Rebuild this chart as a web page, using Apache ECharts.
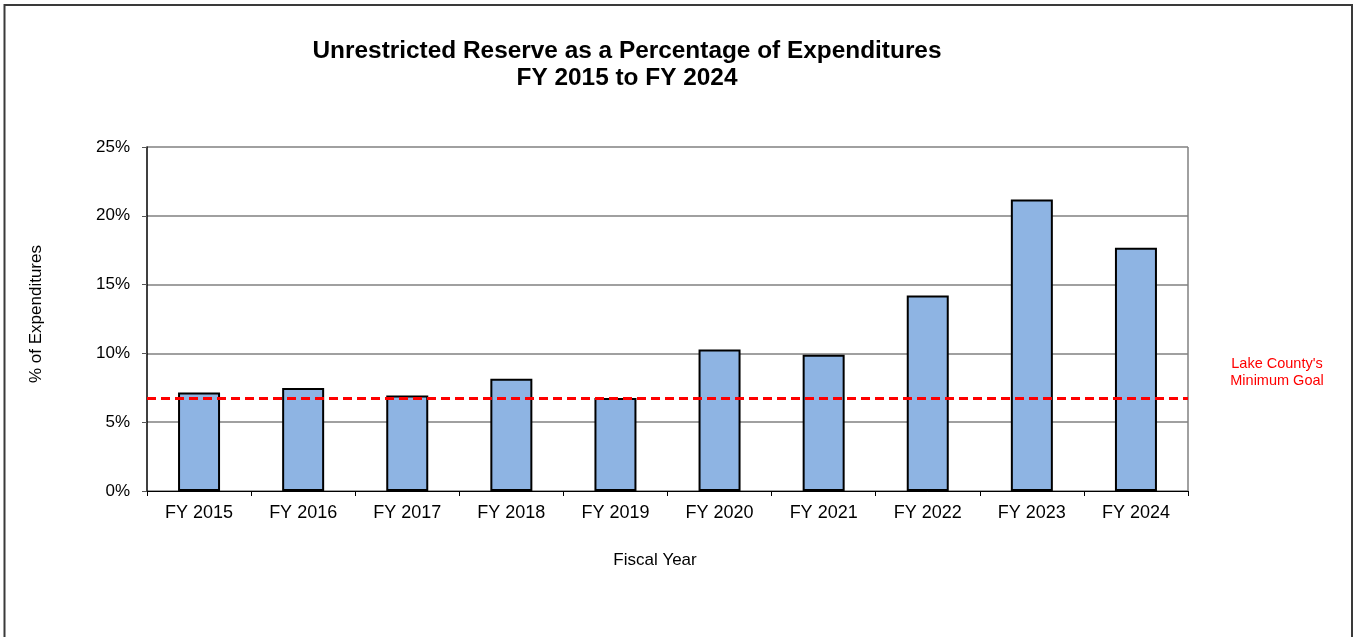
<!DOCTYPE html>
<html>
<head>
<meta charset="utf-8">
<title>Unrestricted Reserve as a Percentage of Expenditures</title>
<script src="https://cdn.jsdelivr.net/npm/echarts@6/dist/echarts.min.js"></script>
<style>
  html, body { margin: 0; padding: 0; background: #ffffff; }
  #chart { width: 1355px; height: 637px; }
</style>
</head>
<body>
<div id="chart"></div>
<script>
// Fiscal years shown on the category axis
const fiscalYears = ['FY 2015', 'FY 2016', 'FY 2017', 'FY 2018', 'FY 2019',
                     'FY 2020', 'FY 2021', 'FY 2022', 'FY 2023', 'FY 2024'];
// Unrestricted reserve as % of expenditures
const reservePct = [7.16, 7.48, 6.94, 8.16, 6.75, 10.29, 9.9, 14.2, 21.19, 17.68];
// County's minimum reserve goal (%)
const minimumGoal = 6.75;
const goalLabel = "Lake County's\nMinimum Goal";

const FONT = 'Liberation Sans, Arial, sans-serif';
const chart = echarts.init(document.getElementById('chart'));

chart.setOption({
  animation: false,
  textStyle: { fontFamily: FONT },
  grid: { left: 147, right: 167, top: 147, bottom: 146, show: false },
  xAxis: {
    type: 'category',
    data: fiscalYears,
    axisLine: { lineStyle: { color: '#000', width: 1 } },
    axisTick: { show: true, length: 5, alignWithLabel: false, lineStyle: { color: '#000' } },
    axisLabel: { fontSize: 18, color: '#000', margin: 13 }
  },
  yAxis: {
    type: 'value',
    min: 0,
    max: 25,
    interval: 5,
    axisLine: { show: true, lineStyle: { color: '#000', width: 1.5 } },
    axisTick: { show: true, length: 5, lineStyle: { color: '#555' } },
    axisLabel: { fontSize: 17, color: '#000', margin: 17, formatter: '{value}%' },
    splitLine: { show: true, lineStyle: { color: '#808080', width: 1.5 } }
  },
  graphic: [
    // outer chart frame (open at the bottom)
    {
      type: 'polyline',
      shape: { points: [[4.5, 640], [4.5, 5], [1352, 5], [1352, 640]] },
      style: { stroke: '#3a3a3a', lineWidth: 2, fill: null },
      silent: true
    },
    // right edge of the plot area
    {
      type: 'line',
      shape: { x1: 1188, y1: 147, x2: 1188, y2: 491 },
      style: { stroke: '#808080', lineWidth: 1.5 },
      silent: true
    },
    // chart title
    {
      type: 'text',
      x: 627,
      y: 65,
      style: {
        text: 'Unrestricted Reserve as a Percentage of Expenditures\nFY 2015 to FY 2024',
        fill: '#000',
        fontSize: 24.4,
        fontWeight: 'bold',
        fontFamily: FONT,
        lineHeight: 27,
        align: 'center',
        verticalAlign: 'middle'
      },
      silent: true
    },
    // axis titles
    {
      type: 'text',
      x: 655,
      y: 560,
      style: {
        text: 'Fiscal Year',
        fill: '#000',
        fontSize: 17,
        fontFamily: FONT,
        align: 'center',
        verticalAlign: 'middle'
      },
      silent: true
    },
    {
      type: 'text',
      x: 36,
      y: 314,
      rotation: Math.PI / 2,
      style: {
        text: '% of Expenditures',
        fill: '#000',
        fontSize: 17,
        fontFamily: FONT,
        align: 'center',
        verticalAlign: 'middle'
      },
      silent: true
    },
    // goal line caption
    {
      type: 'text',
      x: 1277,
      y: 372.5,
      style: {
        text: goalLabel,
        fill: '#ff0000',
        fontSize: 14.5,
        fontFamily: FONT,
        lineHeight: 17,
        align: 'center',
        verticalAlign: 'middle'
      },
      silent: true
    }
  ],
  series: [
    {
      type: 'bar',
      data: reservePct,
      barWidth: 42,
      itemStyle: { color: '#8eb4e3', borderColor: '#000', borderWidth: 2 },
      markLine: {
        silent: true,
        symbol: 'none',
        label: { show: false },
        lineStyle: { color: '#ff0000', width: 3, type: [9, 5], opacity: 1 },
        data: [{ yAxis: minimumGoal }]
      },
      z: 2
    }
  ]
});
</script>
</body>
</html>
